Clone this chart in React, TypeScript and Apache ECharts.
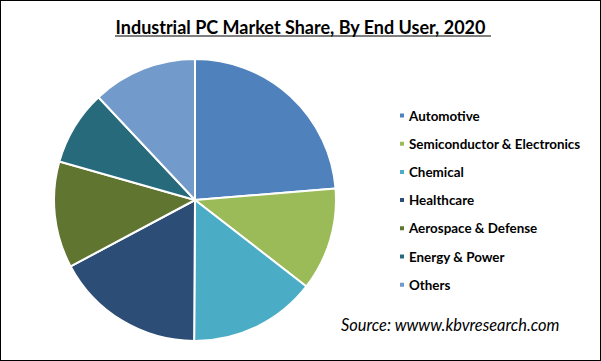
import React, { useEffect, useRef } from "react";
import * as echarts from "echarts";

const categories = [
  "Automotive",
  "Semiconductor & Electronics",
  "Chemical",
  "Healthcare",
  "Aerospace & Defense",
  "Energy & Power",
  "Others",
];
const shares = [23.7, 11.8, 14.6, 17.1, 12.2, 8.6, 12.0];
const colors = ["#4F81BD", "#9BBB59", "#4BACC6", "#2C4D75", "#5F7530", "#276A7C", "#729ACA"];
const titleText = "Industrial PC Market Share, By End User, 2020";
const sourceText = "Source: wwww.kbvresearch.com";

export default function App() {
  const ref = useRef<HTMLDivElement>(null);
  useEffect(() => {
    document.body.style.margin = "0";
    const chart = echarts.init(ref.current!, null, { renderer: "svg" });
    chart.setOption({
      animation: false,
      backgroundColor: "#ffffff",
      color: colors,
      title: {
        text: titleText,
        left: "center",
        top: 12,
        textStyle: { fontFamily: "Lato", fontWeight: "bold", fontSize: 18, color: "#000" },
      },
      legend: {
        orient: "vertical",
        left: 392,
        top: 103,
        itemWidth: 6,
        itemHeight: 6,
        itemGap: 15.2,
        icon: "rect",
        textStyle: { fontFamily: "Lato", fontWeight: "bold", fontSize: 13.4, color: "#000", padding: [0, 0, 0, -1] },
        data: categories,
      },
      graphic: [
        {
          type: "line",
          shape: { x1: 114, y1: 35, x2: 490, y2: 35 },
          style: { stroke: "#000", lineWidth: 1.2 },
        },
        {
          type: "text",
          left: 340,
          top: 315,
          style: {
            text: sourceText,
            font: "italic 16.4px Lato",
            fill: "#000",
          },
        },
      ],
      series: [
        {
          type: "pie",
          center: [194, 199],
          radius: 141,
          startAngle: 90,
          clockwise: true,
          label: { show: false },
          labelLine: { show: false },
          emphasis: { disabled: true },
          itemStyle: { borderColor: "#fff", borderWidth: 2 },
          data: categories.map((name, i) => ({ name, value: shares[i] })),
        },
      ],
    });
    return () => chart.dispose();
  }, []);
  return (
    <div
      ref={ref}
      style={{ width: 601, height: 361, border: "1px solid #000", boxSizing: "border-box" }}
    />
  );
}
